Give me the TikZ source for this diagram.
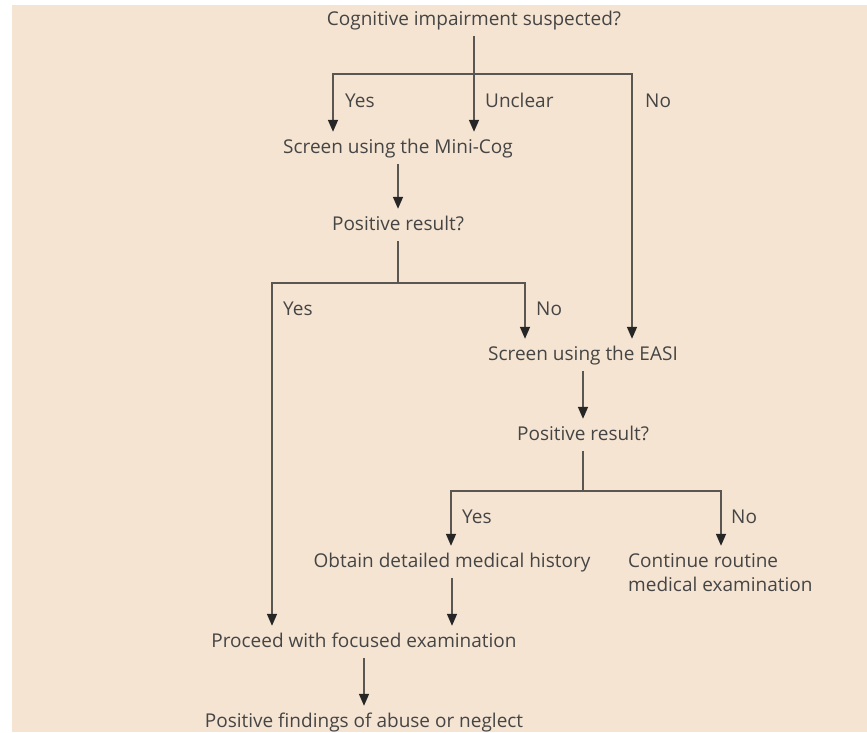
\documentclass[tikz,border=0pt]{standalone}
\usepackage{fontspec}
\setmainfont{Open Sans}
\usetikzlibrary{arrows.meta}
\definecolor{peach}{HTML}{F5E4D2}
\definecolor{inkgray}{HTML}{454545}
\definecolor{linegray}{HTML}{5A5652}
\tikzset{
 box/.style={font=\fontsize{19}{24}\selectfont,text=inkgray,anchor=base,inner xsep=2pt,inner ysep=7pt,text height=14pt,text depth=4pt},
 lbl/.style={font=\fontsize{19}{24}\selectfont,text=inkgray,anchor=base west,inner sep=0pt},
 ln/.style={draw=linegray,line width=1.6pt},
 arr/.style={ln,-{Triangle[length=12pt,width=10pt,color=black!85]}},
 arrs/.style={ln,{Triangle[length=12pt,width=10pt,color=black!85]}-{Triangle[length=12pt,width=10pt,color=black!85]}}
}
\begin{document}
\begin{tikzpicture}[x=1pt,y=-1pt]
 \fill[white] (0,0) rectangle (867,732);
 \fill[peach] (12,5) rectangle (867,732);
 \useasboundingbox (0,0) rectangle (867,732);
 % texts
 \node[box] (cog) at (474,25) {Cognitive impairment suspected?};
 \node[box] (mini) at (398,153) {Screen using the Mini-Cog};
 \node[box] (posa) at (398,230) {Positive result?};
 \node[box] (easi) at (583,360) {Screen using the EASI};
 \node[box] (posb) at (583,440) {Positive result?};
 \node[box] (hist) at (452,567) {Obtain detailed medical history};
 \node[lbl,anchor=north west,align=left] (cont) at (628,553) {Continue routine\\medical examination};
 \node[box] (proc) at (364,647) {Proceed with focused examination};
 \node[box] (find) at (364,727) {Positive findings of abuse or neglect};
 % branch points
 \coordinate (ja) at (474,74); \coordinate (jal) at (333,74); \coordinate (jar) at (632,74);
 \coordinate (jb) at (398,283); \coordinate (jbl) at (272,283); \coordinate (jbr) at (525,283);
 \coordinate (jc) at (583,491); \coordinate (jcl) at (451,491); \coordinate (jcr) at (721,491);
 % connectors
 \draw[arr] (cog.south) -- (cog.south |- mini.north);
 \draw[arrs] (jal |- mini.north) -- (jal) -- (jar) -- (jar |- easi.north);
 \draw[arr] (mini.south) -- (posa.north);
 \draw[ln] (posa.south) -- (jb);
 \draw[arrs] (jbl |- proc.north) -- (jbl) -- (jbr) -- (jbr |- easi.north);
 \draw[arr] (easi.south) -- (posb.north);
 \draw[ln] (posb.south) -- (jc);
 \draw[arrs] (jcl |- hist.north) -- (jcl) -- (jcr) -- (jcr |- hist.north);
 \draw[arr] (hist.south) -- (hist.south |- proc.north);
 \draw[arr] (proc.south) -- (find.north);
 % branch labels
 \node[lbl] (ya) at (345,107) {Yes};
 \node[lbl] (ua) at (485,107) {Unclear};
 \node[lbl] (na) at (645,107) {No};
 \node[lbl] (yb) at (283,315) {Yes};
 \node[lbl] (nb) at (536,315) {No};
 \node[lbl] (yc) at (462,523) {Yes};
 \node[lbl] (nc) at (731,523) {No};
\end{tikzpicture}
\end{document}
